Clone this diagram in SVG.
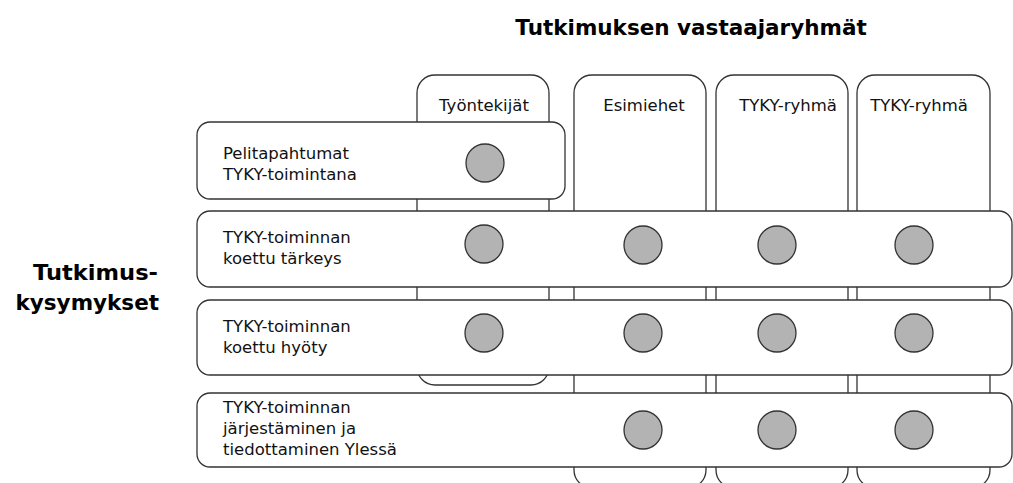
<svg xmlns="http://www.w3.org/2000/svg" width="1013" height="483" viewBox="0 0 1013 483">
<style>
.box{fill:#fff;stroke:#333;stroke-width:1.3}
.dot{fill:#b3b3b3;stroke:#333;stroke-width:1.3}
.lbl{font-family:"DejaVu Sans",Verdana,sans-serif;font-size:16.5px;fill:#111}
.hd{font-family:"DejaVu Sans",Verdana,sans-serif;font-size:16.5px;fill:#111;text-anchor:middle}
.big{font-family:"DejaVu Sans",Verdana,sans-serif;font-size:21.5px;font-weight:bold;fill:#000}
</style>
<rect width="1013" height="483" fill="#fff"/>
<g id="title"><text class="big" x="691" y="35" text-anchor="middle">Tutkimuksen vastaajaryhmät</text></g>
<g id="side-title"><text class="big" x="158" y="280" text-anchor="end" textLength="125" lengthAdjust="spacingAndGlyphs">Tutkimus-</text><text class="big" x="159" y="310" text-anchor="end">kysymykset</text></g>
<g id="col-tyontekijat"><rect class="box" x="417" y="75" width="132" height="310" rx="18"/><text class="hd" x="484" y="111">Työntekijät</text></g>
<g id="col-esimiehet"><rect class="box" x="574" y="75" width="132" height="413" rx="18"/><text class="hd" x="644" y="111">Esimiehet</text></g>
<g id="col-tyky1"><rect class="box" x="716" y="75" width="132" height="413" rx="18"/><text class="hd" x="788" y="111">TYKY-ryhmä</text></g>
<g id="col-tyky2"><rect class="box" x="857" y="75" width="133" height="413" rx="18"/><text class="hd" x="919" y="111">TYKY-ryhmä</text></g>
<g id="row-peli"><rect class="box" x="197" y="122" width="368" height="77" rx="13"/><text class="lbl" x="223" y="159">Pelitapahtumat</text><text class="lbl" x="223" y="180">TYKY-toimintana</text><circle class="dot" cx="485" cy="163" r="19"/></g>
<g id="row-tarkeys"><rect class="box" x="197" y="211" width="815" height="76" rx="13"/><text class="lbl" x="223" y="243">TYKY-toiminnan</text><text class="lbl" x="223" y="264">koettu tärkeys</text><circle class="dot" cx="484" cy="244" r="19"/><circle class="dot" cx="643" cy="245" r="19"/><circle class="dot" cx="777" cy="245" r="19"/><circle class="dot" cx="914" cy="245" r="19"/></g>
<g id="row-hyoty"><rect class="box" x="197" y="300" width="815" height="75" rx="13"/><text class="lbl" x="223" y="332">TYKY-toiminnan</text><text class="lbl" x="223" y="353">koettu hyöty</text><circle class="dot" cx="484" cy="333" r="19"/><circle class="dot" cx="643" cy="333" r="19"/><circle class="dot" cx="777" cy="333" r="19"/><circle class="dot" cx="914" cy="333" r="19"/></g>
<g id="row-jarjestaminen"><rect class="box" x="197" y="393" width="815" height="74" rx="13"/><text class="lbl" x="223" y="413">TYKY-toiminnan</text><text class="lbl" x="223" y="434">järjestäminen ja</text><text class="lbl" x="223" y="455">tiedottaminen Ylessä</text><circle class="dot" cx="643" cy="430" r="19"/><circle class="dot" cx="777" cy="430" r="19"/><circle class="dot" cx="914" cy="430" r="19"/></g>
<g id="connectors"></g>
</svg>
